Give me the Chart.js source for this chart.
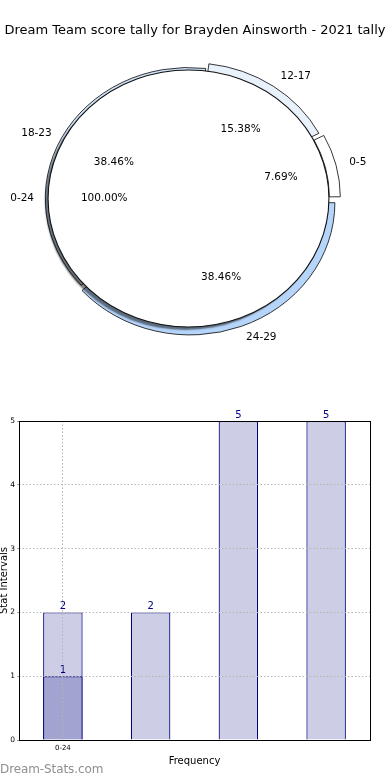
<!DOCTYPE html>
<html>
<head>
<meta charset="utf-8">
<script src="https://cdn.jsdelivr.net/npm/chart.js@4/dist/chart.umd.min.js"></script>
<style>
  html,body{margin:0;padding:0;background:#fff;}
  body{width:390px;height:780px;position:relative;overflow:hidden;font-family:"DejaVu Sans",sans-serif;}
  #title{position:absolute;left:0;top:22px;width:390px;text-align:center;font-size:13px;color:#000;white-space:nowrap;}
  #pieWrap{position:absolute;left:0;top:0;width:390px;height:396px;}
  #barWrap{position:absolute;left:0;top:396px;width:390px;height:384px;}
  #mark{position:absolute;left:0;top:762px;font-size:12px;color:#8f8f8f;letter-spacing:-0.1px;}
</style>
</head>
<body>
<div id="pieWrap"><canvas id="pie"></canvas></div>
<div id="barWrap"><canvas id="bars"></canvas></div>
<div id="title">Dream Team score tally for Brayden Ainsworth - 2021 tally</div>
<div id="mark">Dream-Stats.com</div>
<script>
// === Data ===
const ringLabels = ['24-29','18-23','12-17','0-5'];   // clockwise from 3 o'clock
const ringValues = [5,5,2,1];
const pieLabels = ['0-24'];
const pieValues = [13];
const barLabels = ['0-24','','',''];
const barValues = [2,2,5,5];
const barInner = [1,null,null,null];

const $ = (s,el=document)=>el.querySelector(s);
const SX = 1.093;          // pie is drawn a bit wider than tall
const FONT = '"DejaVu Sans", sans-serif';

// how far chart.js pushes an arc out for its offset (translate + radius fix)
function pushOut(arc,off){ const t=off/4, fix=1-Math.sin(Math.min(Math.PI,arc.circumference)); return t*(1+fix); }

// === Pie ===
const ellipse = {
  id:'ellipse',
  beforeDatasetsDraw(c){ const a=c.chartArea, cx=(a.left+a.right)/2, cy=(a.top+a.bottom)/2;
    c.ctx.save(); c.ctx.translate(cx,cy); c.ctx.scale(SX,1); c.ctx.translate(-cx,-cy); },
  afterDatasetsDraw(c){ c.ctx.restore(); },
  beforeDatasetDraw(c,args){ if(args.index!==1) return; const x=c.ctx; x.save();
    x.shadowColor='rgba(0,0,0,0.5)'; x.shadowOffsetX=-3; x.shadowOffsetY=3; x.shadowBlur=1.5; },
  afterDatasetDraw(c,args){ if(args.index!==1) return; const x=c.ctx; x.restore();
    // outline of the full pie (no seam line to the centre)
    const el=c.getDatasetMeta(1).data[0];
    x.save(); x.strokeStyle='#111'; x.lineWidth=1; x.beginPath(); x.arc(el.x,el.y,el.outerRadius,0,Math.PI*2); x.stroke(); x.restore(); }
};
const pieText = {
  id:'pieText',
  afterDraw(c){
    const x=c.ctx, a=c.chartArea, cx=(a.left+a.right)/2, cy=(a.top+a.bottom)/2;
    const R = c.getDatasetMeta(1).data[0].outerRadius;
    x.save(); x.font='10.5px '+FONT; x.fillStyle='#000'; x.textBaseline='middle';
    c.data.datasets.forEach((ds,di)=>{
      const meta=c.getDatasetMeta(di), tot=ds.data.reduce((s,v)=>s+v,0);
      meta.data.forEach((arc,i)=>{
        const mid=(arc.startAngle+arc.endAngle)/2, sh=1.25*Math.max(0,pushOut(arc,ds.offset[i]||0));
        const co=Math.cos(mid), si=Math.sin(mid);
        let r=0.6*R+sh;
        x.textAlign='center';
        x.fillText((ds.data[i]/tot*100).toFixed(2)+'%', cx+SX*co*r, cy+si*r);
        r=1.1*R+sh;
        x.textAlign = co<0 ? 'right' : 'left';
        x.fillText(c.data.labels[di][i], cx+SX*co*r, cy+si*r);
      });
    });
    x.restore();
  }
};
new Chart($('#pie'),{
  type:'pie',
  data:{ labels:[ringLabels,pieLabels], datasets:[
    { data:ringValues, weight:10, radius:131, order:1, offset:[17,0,18.6,21],
      backgroundColor:['#b6d5fb','#cfe2f8','#e9f1fd','#ffffff'], borderColor:'#111', borderWidth:0.8 },
    { data:pieValues, weight:121, radius:139.1, order:0, offset:[0],
      backgroundColor:['#ffffff'], borderWidth:0 }
  ]},
  options:{ responsive:true, maintainAspectRatio:false, animation:false, rotation:90, cutout:0,
    layout:{padding:{left:0,right:13,top:1,bottom:0}},
    plugins:{legend:{display:false},tooltip:{enabled:false}} },
  plugins:[ellipse,pieText]
});

// === Bars ===
const frame = {
  id:'frame',
  afterDraw(c){ const a=c.chartArea, x=c.ctx; x.save(); x.strokeStyle='#000'; x.lineWidth=1;
    x.strokeRect(Math.round(a.left)+0.5, Math.round(a.top)+0.5, Math.round(a.right-a.left), Math.round(a.bottom-a.top)); x.restore(); }
};
const barText = {
  id:'barText',
  afterDatasetsDraw(c){ const x=c.ctx; x.save(); x.font='10px '+FONT; x.fillStyle='#000080'; x.textAlign='center'; x.textBaseline='bottom';
    c.data.datasets.forEach((ds,di)=>{ c.getDatasetMeta(di).data.forEach((b,i)=>{ if(ds.data[i]==null) return; x.fillText(String(ds.data[i]), b.x, b.y-1); }); });
    x.restore(); }
};
new Chart($('#bars'),{
  type:'bar',
  data:{ labels:barLabels, datasets:[
    { data:barInner, backgroundColor:'#a3a3d1', borderColor:'#000080', borderWidth:1.2, order:0 },
    { data:barValues, backgroundColor:'#cdcde6', borderColor:'#000080', borderWidth:1.2, order:1 }
  ]},
  options:{ responsive:true, maintainAspectRatio:false, animation:false,
    datasets:{bar:{grouped:false, categoryPercentage:1, barPercentage:0.45}},
    layout:{padding:{left:0,right:20,top:25,bottom:0}},
    plugins:{legend:{display:false},tooltip:{enabled:false}},
    scales:{
      x:{ afterFit:s=>{s.height=40;},
        grid:{offset:false, z:1, drawTicks:false, color:ctx=>ctx.index===0?'#b4b4b4':'rgba(0,0,0,0)'},
        border:{display:false, dash:[1.5,2]},
        ticks:{font:{family:FONT,size:7},color:'#000',padding:4,maxRotation:0,autoSkip:false},
        title:{display:true,text:'Frequency',font:{family:FONT,size:10},color:'#000',padding:{top:0,bottom:13}} },
      y:{ min:0, max:5, afterFit:s=>{s.width=19;},
        grid:{z:1, color:'#b4b4b4', tickLength:2, tickColor:'#999'},
        border:{display:false, dash:[1.5,2]},
        ticks:{stepSize:1,font:{family:FONT,size:7.5},color:'#000',padding:2},
        title:{display:true,text:'Stat Intervals',font:{family:FONT,size:10,lineHeight:0.8},color:'#000',padding:0} }
    }
  },
  plugins:[frame,barText]
});
</script>
</body>
</html>
